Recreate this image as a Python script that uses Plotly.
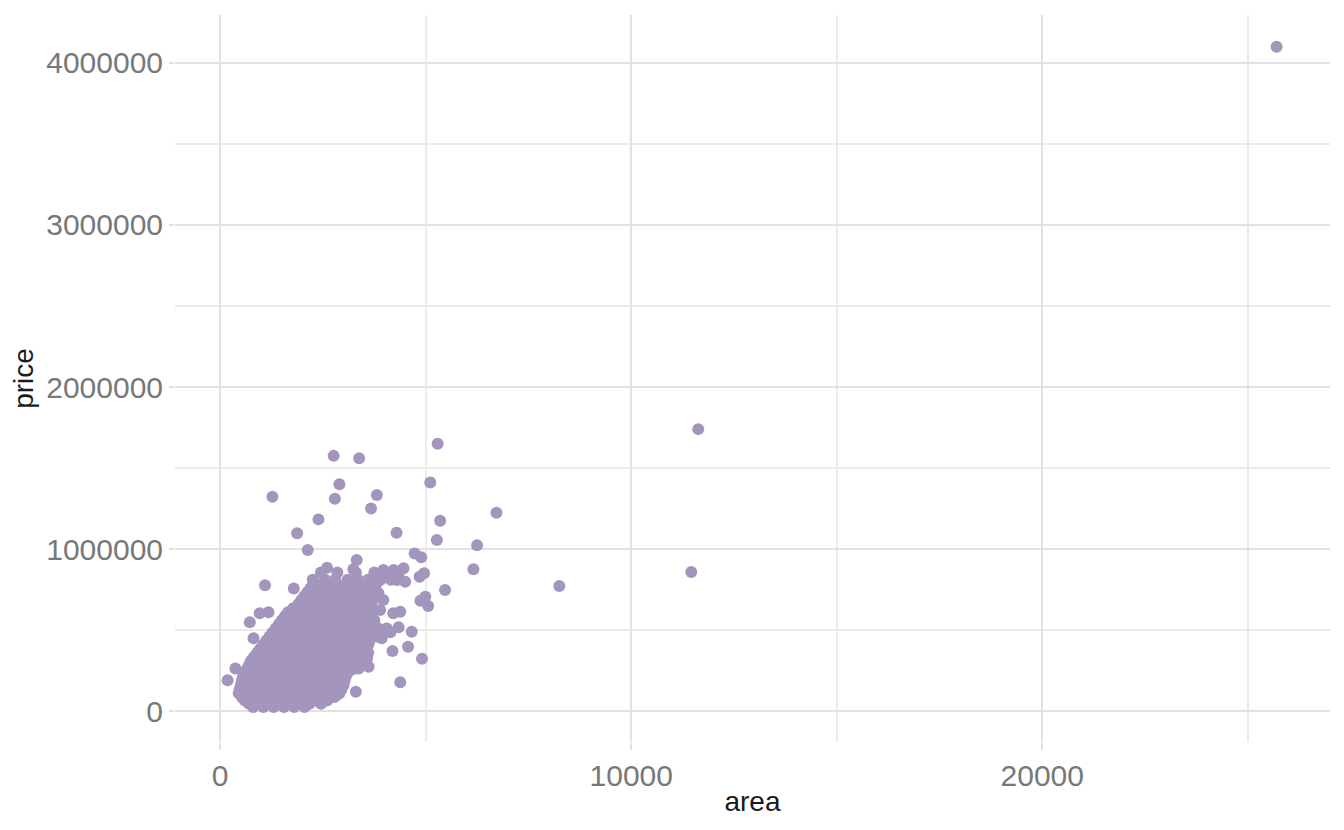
import plotly.graph_objects as go

# scattered points (area, price)
outlier_area = [25700, 11630, 11460, 8250, 5290, 2760, 3380, 5110, 1270, 2900,
                2790, 3810, 3670, 6720, 5350, 2390, 1870, 4290, 5270, 2130,
                6250, 6160, 4730, 4890, 3320, 3240, 2600, 5470, 1090, 1790,
                4910, 4380, 3300, 180, 370, 720, 810, 960, 1175, 4570,
                4190, 4660, 4340, 3930, 4140, 5060, 4870, 4990, 4380, 4210,
                4850, 4960, 4460, 4220, 3970, 4500, 4300, 3850, 3970, 3890,
                3730, 3810, 3610, 3570, 3610, 3370, 2840]
outlier_price = [4100000, 1740000, 858000, 772000, 1650000, 1575000, 1560000, 1410000, 1323000, 1400000,
                 1310000, 1333000, 1250000, 1224000, 1175000, 1183000, 1097000, 1100000, 1056000, 994000,
                 1023000, 875000, 973000, 949000, 932000, 875000, 885000, 747000, 776000, 757000,
                 323000, 178000, 119000, 190000, 262000, 548000, 450000, 603000, 610000, 397000,
                 370000, 490000, 517000, 449000, 486000, 648000, 681000, 706000, 613000, 603000,
                 829000, 850000, 881000, 870000, 870000, 798000, 809000, 727000, 685000, 623000,
                 541000, 500000, 418000, 325000, 273000, 263000, 99000]

# dense cluster, read row by row (price level -> areas at that level)
cluster_prices = [25000, 45000, 65000, 87000, 110000, 135000, 160000, 185000, 210000,
                  235000, 260000, 285000, 310000, 335000, 360000, 385000, 410000, 435000,
                  460000, 485000, 510000, 535000, 560000, 585000, 610000, 635000, 660000,
                  685000, 710000, 735000, 760000, 785000, 810000, 855000]
cluster_areas = [
    [800, 1050, 1300, 1550, 1800, 2050],
    [700, 925, 1175, 1425, 1675, 1925, 2175, 2450],
    [600, 850, 1100, 1350, 1600, 1850, 2100, 2350, 2600],
    [525, 775, 1025, 1275, 1525, 1775, 2025, 2275, 2525, 2775],
    [450, 700, 950, 1200, 1450, 1700, 1950, 2200, 2450, 2700, 2900],
    [475, 725, 975, 1225, 1475, 1725, 1975, 2225, 2475, 2725, 2950],
    [500, 750, 1000, 1250, 1500, 1750, 2000, 2250, 2500, 2750, 3000],
    [525, 775, 1025, 1275, 1525, 1775, 2025, 2275, 2525, 2775, 3025],
    [550, 800, 1050, 1300, 1550, 1800, 2050, 2300, 2550, 2800, 3050],
    [600, 850, 1100, 1350, 1600, 1850, 2100, 2350, 2600, 2850, 3100],
    [650, 900, 1150, 1400, 1650, 1900, 2150, 2400, 2650, 2900, 3150, 3250],
    [700, 950, 1200, 1450, 1700, 1950, 2200, 2450, 2700, 2950, 3200, 3450],
    [750, 1000, 1250, 1500, 1750, 2000, 2250, 2500, 2750, 3000, 3250, 3500],
    [825, 1075, 1325, 1575, 1825, 2075, 2325, 2575, 2825, 3075, 3325, 3575],
    [900, 1150, 1400, 1650, 1900, 2150, 2400, 2650, 2900, 3150, 3400, 3600],
    [975, 1225, 1475, 1725, 1975, 2225, 2475, 2725, 2975, 3225, 3475],
    [1050, 1300, 1550, 1800, 2050, 2300, 2550, 2800, 3050, 3300, 3600],
    [1125, 1375, 1625, 1875, 2125, 2375, 2625, 2875, 3125, 3375, 3625],
    [1200, 1450, 1700, 1950, 2200, 2450, 2700, 2950, 3200, 3450, 3700, 3800],
    [1275, 1525, 1775, 2025, 2275, 2525, 2775, 3025, 3275, 3525, 3775, 3950],
    [1350, 1600, 1850, 2100, 2350, 2600, 2850, 3100, 3350, 3600, 3850, 4050],
    [1425, 1675, 1925, 2175, 2425, 2675, 2925, 3175, 3425, 3675],
    [1500, 1750, 2000, 2250, 2500, 2750, 3000, 3250, 3500, 3750],
    [1575, 1825, 2075, 2325, 2575, 2825, 3075, 3325, 3575],
    [1650, 1900, 2150, 2400, 2650, 2900, 3150, 3400, 3650],
    [1775, 2025, 2275, 2525, 2775, 3025, 3275, 3525],
    [1900, 2150, 2400, 2650, 2900, 3150, 3400, 3650],
    [1975, 2225, 2475, 2725, 2975, 3225, 3475, 3725],
    [2050, 2300, 2550, 2800, 3050, 3300, 3550, 3850],
    [2125, 2375, 2625, 2875, 3125, 3375, 3625],
    [2200, 2450, 2700, 2950, 3200, 3450, 3700],
    [2325, 2575, 2825, 3075, 3325, 3575, 3800],
    [2250, 2550, 2800, 3100, 3350, 3600, 3900, 4150],
    [2450, 2850, 3300, 3750, 4050, 4350],
]

area = list(outlier_area)
price = list(outlier_price)
for p, row in zip(cluster_prices, cluster_areas):
    area += row
    price += [p] * len(row)

POINT = "#A495BC"
MAJOR = "#E2E2E2"
MINOR = "#EBEBEB"
TICK_FONT = dict(family="Liberation Sans", size=30, color="#787878")
TITLE_FONT = dict(family="Liberation Sans", size=28, color="#1A1A1A")

fig = go.Figure()
fig.add_trace(go.Scatter(
    x=area, y=price, mode="markers",
    marker=dict(size=12, color=POINT, line=dict(width=0)),
    showlegend=False,
))

fig.update_xaxes(
    range=[-1100, 27000], tick0=0, dtick=10000, tickformat="d",
    showgrid=True, gridcolor=MAJOR, gridwidth=2, zeroline=False,
    minor=dict(dtick=5000, showgrid=True, gridcolor=MINOR, gridwidth=1.6),
    ticks="outside", ticklen=7, tickwidth=2, tickcolor=MAJOR,
    tickfont=TICK_FONT, showline=False, automargin=False,
    title=dict(text="area", font=TITLE_FONT, standoff=0),
)
fig.update_yaxes(
    range=[-191000, 4296000], tick0=0, dtick=1000000, tickformat="d",
    showgrid=True, gridcolor=MAJOR, gridwidth=2, zeroline=False,
    minor=dict(dtick=500000, showgrid=True, gridcolor=MINOR, gridwidth=1.6),
    ticks="outside", ticklen=5, tickwidth=2, tickcolor=MAJOR,
    tickfont=TICK_FONT, showline=False, automargin=False,
    title=dict(text="price", font=TITLE_FONT, standoff=14),
)
# the page body adds ~8px on the left and top, so the margins absorb it
fig.update_layout(
    width=1344, height=830,
    margin=dict(l=167, r=22, t=7, b=96),
    paper_bgcolor="white", plot_bgcolor="white",
)

fig.write_html("out.html")
